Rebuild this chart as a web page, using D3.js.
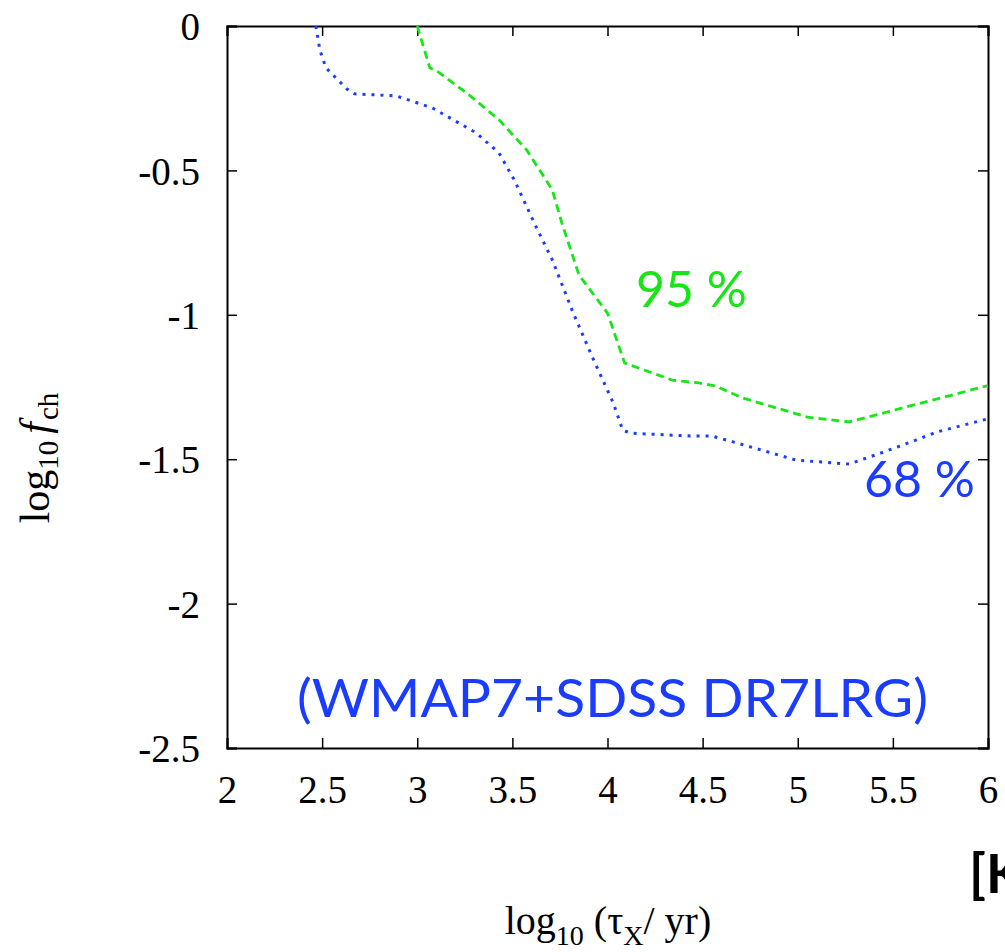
<!DOCTYPE html>
<html>
<head>
<meta charset="utf-8">
<script src="https://cdn.jsdelivr.net/npm/d3@7"></script>
<style>
  html, body { margin: 0; padding: 0; background: #fff; overflow: hidden; }
  svg { display: block; }
</style>
</head>
<body>
<svg id="chart" width="1005" height="952"></svg>
<script>
// Data
const xTicks = [2, 2.5, 3, 3.5, 4, 4.5, 5, 5.5, 6];
const xTickLabels = ["2", "2.5", "3", "3.5", "4", "4.5", "5", "5.5", "6"];
const yTicks = [0, -0.5, -1, -1.5, -2, -2.5];
const yTickLabels = ["0", "-0.5", "-1", "-1.5", "-2", "-2.5"];

// 68% contour (blue dotted)
const c68x = [2.467, 2.488, 2.52, 2.63, 2.67, 2.89, 3.08, 3.31, 3.43, 3.51, 3.62, 3.71, 3.82, 3.92, 4.03, 4.08, 4.12, 4.45, 4.55, 4.66, 4.99, 5.27, 5.44, 5.62, 5.73, 6.0];
const c68y = [0, -0.083, -0.145, -0.218, -0.235, -0.242, -0.284, -0.37, -0.44, -0.533, -0.689, -0.81, -0.994, -1.146, -1.305, -1.399, -1.41, -1.42, -1.42, -1.44, -1.503, -1.517, -1.478, -1.434, -1.406, -1.36];

// 95% contour (green dashed)
const c95x = [3.0, 3.066, 3.11, 3.26, 3.43, 3.575, 3.71, 3.76, 3.85, 4.0, 4.09, 4.34, 4.48, 4.57, 4.71, 5.05, 5.27, 6.0];
const c95y = [0, -0.145, -0.159, -0.232, -0.325, -0.429, -0.568, -0.682, -0.862, -0.994, -1.167, -1.226, -1.236, -1.247, -1.288, -1.354, -1.371, -1.245];

const svg = d3.select("#chart");
const mLeft = 227, mRight = 988, mTop = 26, mBottom = 748;

const x = d3.scaleLinear().domain([2, 6]).range([mLeft, mRight]);
const y = d3.scaleLinear().domain([-2.5, 0]).range([mBottom, mTop]);

svg.append("defs").append("clipPath").attr("id", "plotclip")
  .append("rect").attr("x", mLeft).attr("y", mTop).attr("width", mRight - mLeft).attr("height", mBottom - mTop);

const serif = "'Liberation Serif', 'DejaVu Serif', serif";
const sans = "Lato, 'Open Sans', 'DejaVu Sans', sans-serif";

const tickLen = 10;
const bottomAxis = d3.axisBottom(x).tickValues(xTicks).tickSize(-tickLen).tickPadding(27)
  .tickFormat((d, i) => xTickLabels[i]);
const topAxis = d3.axisTop(x).tickValues(xTicks).tickSize(-tickLen).tickFormat("");
const leftAxis = d3.axisLeft(y).tickValues(yTicks).tickSize(-tickLen).tickPadding(27)
  .tickFormat((d, i) => yTickLabels[i]);
const rightAxis = d3.axisRight(y).tickValues(yTicks).tickSize(-tickLen).tickFormat("");

function styleAxis(g) {
  g.select(".domain").attr("stroke", "#000").attr("stroke-width", 2);
  g.selectAll(".tick line").attr("stroke", "#000").attr("stroke-width", 1.5);
  g.selectAll(".tick text").attr("fill", "#000")
    .style("font-family", serif)
    .style("font-size", "39px");
}

svg.append("g").attr("transform", `translate(0,${mBottom})`).call(bottomAxis).call(styleAxis)
  .selectAll(".tick text").attr("dy", "0.71em");
svg.append("g").attr("transform", `translate(0,${mTop})`).call(topAxis).call(styleAxis);
svg.append("g").attr("transform", `translate(${mLeft},0)`).call(leftAxis).call(styleAxis)
  .selectAll(".tick text").attr("dy", "0.35em");
svg.append("g").attr("transform", `translate(${mRight},0)`).call(rightAxis).call(styleAxis);

const line = d3.line().x(d => x(d[0])).y(d => y(d[1]));
const d68 = c68x.map((v, i) => [v, c68y[i]]);
const d95 = c95x.map((v, i) => [v, c95y[i]]);

const green = "#16e616", blue = "#1a3cff";
const curves = svg.append("g").attr("clip-path", "url(#plotclip)");
curves.append("path").datum(d95).attr("d", line)
  .attr("fill", "none").attr("stroke", green).attr("stroke-width", 2.8)
  .attr("stroke-dasharray", "8,5");
curves.append("path").datum(d68).attr("d", line)
  .attr("fill", "none").attr("stroke", blue).attr("stroke-width", 3)
  .attr("stroke-dasharray", "3,6");

svg.append("text").attr("x", 636).attr("y", 307)
  .style("font-family", sans).style("font-size", "50px").attr("fill", green)
  .text("95 %");
svg.append("text").attr("x", 864).attr("y", 497)
  .style("font-family", sans).style("font-size", "50px").attr("fill", blue)
  .text("68 %");
svg.append("text").attr("x", 297).attr("y", 717)
  .style("font-family", sans).style("font-size", "53px").attr("fill", blue)
  .attr("textLength", 631).attr("lengthAdjust", "spacingAndGlyphs")
  .text("(WMAP7+SDSS DR7LRG)");

svg.append("text").attr("x", 969).attr("y", 893)
  .style("font-family", sans).style("font-size", "54px").style("font-weight", "bold").attr("fill", "#000")
  .text("[K");

const xt = svg.append("text").attr("x", 608).attr("y", 934).attr("text-anchor", "middle")
  .style("font-family", serif).style("font-size", "40px").attr("fill", "#000");
xt.append("tspan").text("log");
xt.append("tspan").attr("dy", 11).style("font-size", "28px").text("10");
xt.append("tspan").attr("dy", -11).text(" (τ");
xt.append("tspan").attr("dy", 11).style("font-size", "28px").text("X");
xt.append("tspan").attr("dy", -11).text("/ yr)");

const yt = svg.append("text").attr("transform", "translate(49,458) rotate(-90)").attr("text-anchor", "middle")
  .style("font-family", serif).style("font-size", "42px").attr("fill", "#000");
yt.append("tspan").text("log");
yt.append("tspan").attr("dy", 9).style("font-size", "29px").text("10");
yt.append("tspan").attr("dy", -9).attr("dx", 7).style("font-style", "italic").text("f");
yt.append("tspan").attr("dy", 9).attr("dx", 2).style("font-size", "29px").text("ch");
</script>
</body>
</html>
